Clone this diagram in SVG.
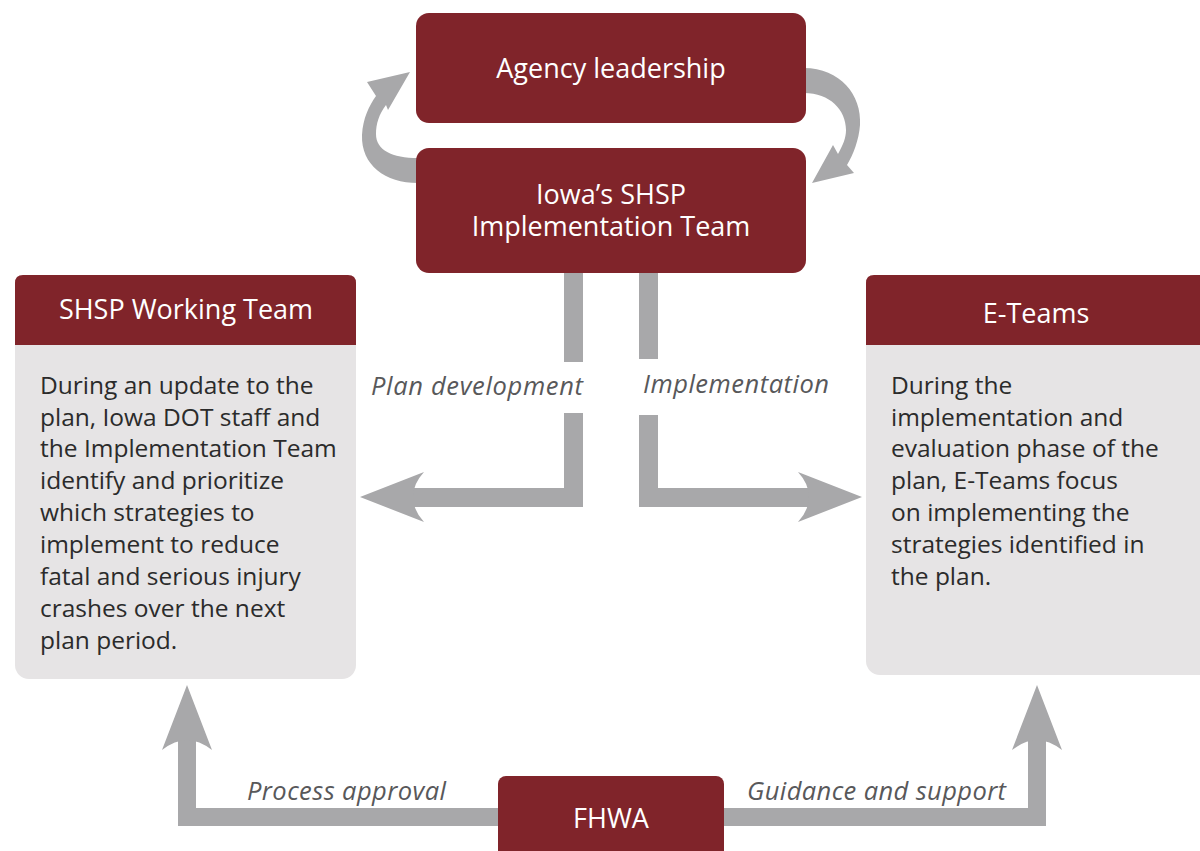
<svg xmlns="http://www.w3.org/2000/svg" width="1200" height="851" viewBox="0 0 1200 851">
<style>
.red{fill:#80242a}
.body{fill:#e6e4e5}
.arr{fill:#a8a8aa}
.ht{font-family:"Open Sans","Noto Sans",sans-serif;font-size:27px;fill:#ffffff;text-anchor:middle}
.bt{font-family:"Open Sans","Noto Sans",sans-serif;font-size:24.5px;fill:#2b2b2b}
.lbl{font-family:"Open Sans","Noto Sans",sans-serif;font-size:25.5px;font-style:italic;fill:#58585a}
</style>
<rect width="1200" height="851" fill="#ffffff"/>
<g id="connectors">
  <path class="arr" d="M 418 183 C 385 183 361 165 362 135 C 363 118 369 106 376 96 L 367 82 L 410 72 L 388 110 L 386 105 C 379 114 376 124 376 134 C 376 150 392 158 418 158 Z"/>
  <path class="arr" d="M 804 68 C 840 68 862 95 860 125 C 859 140 853 155 847 165 L 854 173 L 812 183 L 833 145 L 838 154 C 843 145 846 138 846 130 C 846 110 830 93 804 93 Z"/>
  <rect class="arr" x="564" y="273" width="19" height="89"/>
  <rect class="arr" x="564" y="413" width="19" height="94"/>
  <rect class="arr" x="412" y="488" width="171" height="19"/>
  <path class="arr" d="M 360 497 L 424 472 Q 413 484 413 497 Q 413 510 424 522 Z"/>
  <rect class="arr" x="639" y="273" width="19" height="86"/>
  <rect class="arr" x="639" y="415" width="19" height="92"/>
  <rect class="arr" x="639" y="488" width="171" height="19"/>
  <path class="arr" d="M 862 497 L 798 472 Q 809 484 809 497 Q 809 510 798 522 Z"/>
  <rect class="arr" x="178" y="740" width="18" height="86"/>
  <rect class="arr" x="178" y="808" width="322" height="18"/>
  <path class="arr" d="M 187 685 L 162 750 Q 175 740 187 740 Q 199 740 212 750 Z"/>
  <rect class="arr" x="1028" y="740" width="18" height="86"/>
  <rect class="arr" x="722" y="808" width="324" height="18"/>
  <path class="arr" d="M 1037 685 L 1012 750 Q 1025 740 1037 740 Q 1049 740 1062 750 Z"/>
  <text class="lbl" x="371" y="395" textLength="212" lengthAdjust="spacing">Plan development</text>
  <text class="lbl" x="643" y="393" textLength="186" lengthAdjust="spacing">Implementation</text>
  <text class="lbl" x="247" y="800" textLength="199" lengthAdjust="spacing">Process approval</text>
  <text class="lbl" x="747" y="800" textLength="259" lengthAdjust="spacing">Guidance and support</text>
</g>
<g id="agency">
  <rect class="red" x="416" y="13" width="390" height="110" rx="13"/>
  <text class="ht" x="611" y="78">Agency leadership</text>
</g>
<g id="implementation-team">
  <rect class="red" x="416" y="148" width="390" height="125" rx="13"/>
  <text class="ht" x="611" y="204">Iowa’s SHSP</text>
  <text class="ht" x="611" y="236">Implementation Team</text>
</g>
<g id="working-team">
  <rect class="body" x="15" y="275" width="341" height="404" rx="14"/>
  <path class="red" d="M 15 345 L 15 283 Q 15 275 23 275 L 348 275 Q 356 275 356 283 L 356 345 Z"/>
  <text class="ht" x="186" y="319">SHSP Working Team</text>
  <text class="bt" x="40" y="394">During an update to the</text>
  <text class="bt" x="40" y="426">plan, Iowa DOT staff and</text>
  <text class="bt" x="40" y="457">the Implementation Team</text>
  <text class="bt" x="40" y="489">identify and prioritize</text>
  <text class="bt" x="40" y="521">which strategies to</text>
  <text class="bt" x="40" y="553">implement to reduce</text>
  <text class="bt" x="40" y="585">fatal and serious injury</text>
  <text class="bt" x="40" y="617">crashes over the next</text>
  <text class="bt" x="40" y="649">plan period.</text>
</g>
<g id="e-teams">
  <rect class="body" x="866" y="275" width="350" height="400" rx="14"/>
  <path class="red" d="M 866 345 L 866 283 Q 866 275 874 275 L 1216 275 L 1216 345 Z"/>
  <text class="ht" x="1036" y="323">E-Teams</text>
  <text class="bt" x="891" y="394">During the</text>
  <text class="bt" x="891" y="426">implementation and</text>
  <text class="bt" x="891" y="457">evaluation phase of the</text>
  <text class="bt" x="891" y="489">plan, E-Teams focus</text>
  <text class="bt" x="891" y="521">on implementing the</text>
  <text class="bt" x="891" y="553">strategies identified in</text>
  <text class="bt" x="891" y="585">the plan.</text>
</g>
<g id="fhwa">
  <rect class="red" x="498" y="776" width="226" height="90" rx="8"/>
  <text class="ht" x="611" y="828">FHWA</text>
</g>
</svg>
